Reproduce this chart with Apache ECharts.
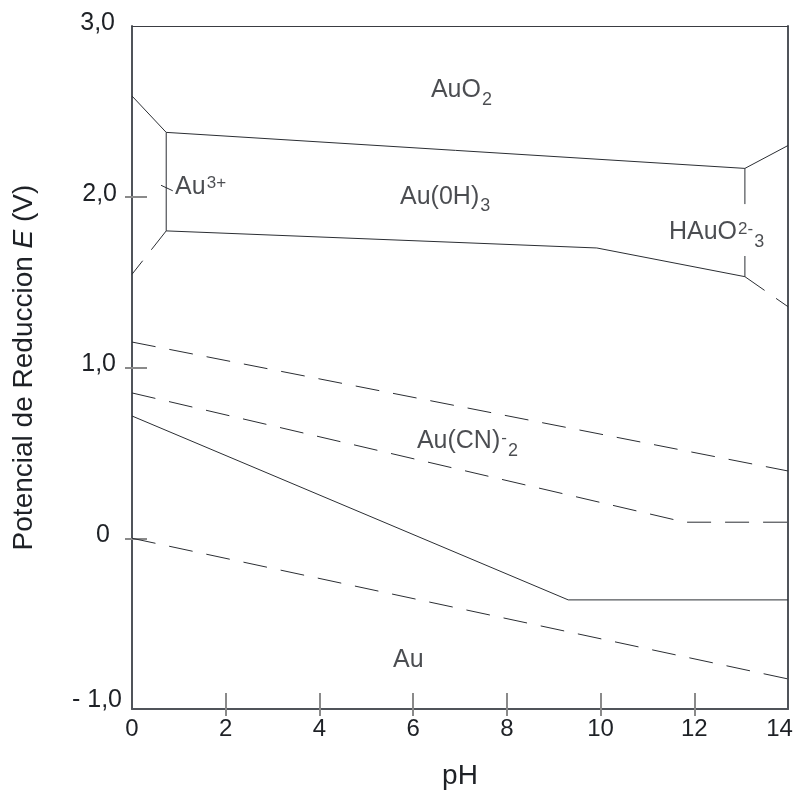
<!DOCTYPE html>
<html><head><meta charset="utf-8">
<script src="https://cdn.jsdelivr.net/npm/echarts@6/dist/echarts.min.js"></script>
<style>html,body{margin:0;padding:0;background:#fff}#c{width:795px;height:791px}</style>
</head><body><div id="c"></div>
<script>
// ---- axis ticks ----
const xTickValues = [0, 2, 4, 6, 8, 10, 12, 14];
const xTickMarks = [2, 4, 6, 8, 10, 12];
const yTickValues = [-1, 0, 1, 2, 3];
const yTickLabels = ['- 1,0', '0', '1,0', '2,0', '3,0'];
const yTickMarks = [0, 1, 2];

// ---- boundary lines: [pH, E] ----
const au3TopLeft = [[0, 2.59], [0.73, 2.377]];
const au3Vertical = [[0.73, 2.377], [0.73, 1.80]];
const au3BottomLeft = [[0.73, 1.80], [0, 1.546]];
const auo2Upper = [[0.73, 2.377], [13.08, 2.166], [14, 2.30]];
const auoh3Lower = [[0.73, 1.80], [9.92, 1.70], [13.08, 1.532]];
const hauo3Lower = [[13.08, 1.532], [14, 1.356]];
const hauo3VertTop = [[13.08, 2.166], [13.08, 1.957]];
const hauo3VertBottom = [[13.08, 1.653], [13.08, 1.532]];
const au3Pointer = [[0.62, 2.067], [0.87, 2.035]];
const cnUpper = [[0, 1.149], [14, 0.394]];
const cnLower = [[0, 0.851], [11.8, 0.094], [14, 0.094]];
const auBoundary = [[0, 0.716], [9.31, -0.361], [14, -0.361]];
const waterLower = [[0, 0], [14, -0.824]];

// ---- species labels ----
const speciesText = ['{m|AuO}{sb|2}', '{m|Au(0H)}{sb|3}', '{m|Au}{sp|3+}', '{m|HAuO}{sp|2-}{sb|3}', '{m|Au(CN)}{sp|-}{sb|2}', '{m|Au}'];
const speciesX = [6.38, 5.72, 0.92, 11.46, 6.08, 5.57];
const speciesY = [2.625, 2.0, 2.057, 1.79, 0.567, -0.7125];

const FF = '"Liberation Sans", Arial, Helvetica, sans-serif';
const TXT = '#1e2126';
const LINE = '#2b2e33';
const AXIS = '#50545a';
const TICK = { color: '#8a8a8a', width: 2 };
const DASH = [24, 14];

function lineSeries(data, dashed) {
  return {
    type: 'line', data: data, showSymbol: false, symbol: 'none', silent: true,
    lineStyle: { color: LINE, width: 1, type: dashed ? DASH : 'solid' },
    xAxisIndex: 0, yAxisIndex: 0, z: 3
  };
}

const yRich = {};
const yPads = { '- 1,0': [0, 0, 18, 0], '0': [0, 12, 6, 0], '1,0': [0, 6, 6, 0], '2,0': [0, 5, 6, 0], '3,0': [0, 7, 5, 0] };
yTickLabels.forEach((t, i) => {
  yRich['y' + i] = { fontSize: 25, color: TXT, fontFamily: FF, padding: yPads[t] };
});

const labelRich = {
  m: { fontSize: 25, color: TXT, fontFamily: FF, verticalAlign: 'top', padding: [4.5, 0, 0, 0], lineHeight: 34 },
  sp: { fontSize: 17, color: TXT, fontFamily: FF, verticalAlign: 'top', padding: [5, 0, 0, 1], lineHeight: 34 },
  sb: { fontSize: 18, color: TXT, fontFamily: FF, verticalAlign: 'top', padding: [17.5, 0, 0, 1], lineHeight: 34 }
};

const chart = echarts.init(document.getElementById('c'), null, { renderer: 'canvas' });
chart.setOption({
  animation: false,
  backgroundColor: '#fff',
  grid: { left: 132, right: 7, top: 26, bottom: 82, containLabel: false, outerBoundsMode: 'none' },
  xAxis: [
    {
      type: 'value', min: 0, max: 14, interval: 2, position: 'bottom',
      axisLine: { show: true, onZero: false, lineStyle: { color: AXIS, width: 2 } },
      axisTick: { show: true, inside: false, length: 7, customValues: xTickMarks, lineStyle: TICK },
      axisLabel: {
        margin: 8, fontSize: 24, color: TXT, fontFamily: FF,
        formatter: v => (v === xTickValues[xTickValues.length - 1] ? '{r|' + v + '}' : String(v)),
        rich: { r: { fontSize: 24, color: TXT, fontFamily: FF, padding: [0, 17, 0, 0] } }
      },
      splitLine: { show: false },
      name: 'pH', nameLocation: 'middle', nameGap: 53,
      nameTextStyle: { fontSize: 28, color: TXT, fontFamily: FF }
    },
    {
      type: 'value', min: 0, max: 14, interval: 2, position: 'bottom',
      axisLine: { show: false, onZero: false },
      axisTick: { show: true, inside: true, length: 16, customValues: xTickMarks, lineStyle: TICK },
      axisLabel: { show: false }, splitLine: { show: false }
    },
    {
      type: 'value', min: 0, max: 14, position: 'top',
      axisLine: { show: true, onZero: false, lineStyle: { color: '#3a3d42', width: 1 } },
      axisTick: { show: false }, axisLabel: { show: false }, splitLine: { show: false }
    }
  ],
  yAxis: [
    {
      type: 'value', min: -1, max: 3, interval: 1, position: 'left',
      axisLine: { show: true, onZero: false, lineStyle: { color: AXIS, width: 2 } },
      axisTick: { show: true, inside: false, length: 7, customValues: yTickMarks, lineStyle: TICK },
      axisLabel: {
        margin: 10, fontSize: 25, color: TXT, fontFamily: FF,
        formatter: v => { const i = yTickValues.indexOf(v); return '{y' + i + '|' + yTickLabels[i] + '}'; },
        rich: yRich
      },
      splitLine: { show: false },
      name: '{a|Potencial de Reduccion }{i|E}{a| (V)}', nameLocation: 'middle', nameGap: 94,
      nameTextStyle: {
        fontSize: 28, color: TXT, fontFamily: FF,
        rich: {
          a: { fontSize: 28, color: TXT, fontFamily: FF },
          i: { fontSize: 28, color: TXT, fontFamily: FF, fontStyle: 'italic' }
        }
      }
    },
    {
      type: 'value', min: -1, max: 3, interval: 1, position: 'left',
      axisLine: { show: false, onZero: false },
      axisTick: { show: true, inside: true, length: 15, customValues: yTickMarks, lineStyle: TICK },
      axisLabel: { show: false }, splitLine: { show: false }
    },
    {
      type: 'value', min: -1, max: 3, position: 'right',
      axisLine: { show: true, onZero: false, lineStyle: { color: AXIS, width: 2 } },
      axisTick: { show: false }, axisLabel: { show: false }, splitLine: { show: false }
    }
  ],
  series: [
    lineSeries(au3TopLeft, false),
    lineSeries(au3Vertical, false),
    lineSeries(au3BottomLeft, true),
    lineSeries(auo2Upper, false),
    lineSeries(auoh3Lower, false),
    lineSeries(hauo3Lower, true),
    lineSeries(hauo3VertTop, false),
    lineSeries(hauo3VertBottom, false),
    lineSeries(au3Pointer, false),
    lineSeries(cnUpper, true),
    lineSeries(cnLower, true),
    lineSeries(auBoundary, false),
    lineSeries(waterLower, true),
    {
      type: 'scatter', silent: true, symbolSize: 0, xAxisIndex: 0, yAxisIndex: 0, z: 5,
      data: speciesText.map((t, i) => ({ value: [speciesX[i], speciesY[i]], label: { formatter: t } })),
      label: { show: true, position: 'right', distance: 0, rich: labelRich }
    }
  ]
});
</script>
</body></html>
